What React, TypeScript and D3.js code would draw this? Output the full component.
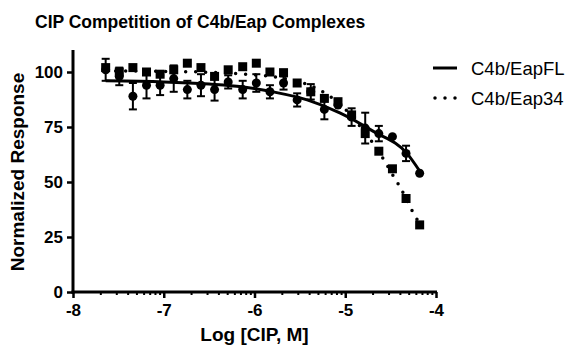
import React, { useEffect, useRef } from 'react';
import * as d3 from 'd3';

// log [CIP, M] of each well
const logConc = [-7.64, -7.49, -7.34, -7.19, -7.04, -6.89, -6.74, -6.59, -6.44, -6.29, -6.13, -5.98,
  -5.83, -5.68, -5.53, -5.38, -5.23, -5.08, -4.93, -4.78, -4.63, -4.48, -4.33, -4.18];

// C4b/EapFL mean + error
const flMean = [101, 98, 89, 94, 94, 97, 92, 94, 92, 95.5, 92, 95,
  91, 95, 87.3, 91, 83, 85, 79.5, 74.5, 72, 70.6, 63, 54];
const flErr = [5, 4, 6, 6, 4.5, 6, 4, 5, 5, 3, 4, 4,
  3, 3, 3, 3.5, 4.5, 0, 4, 7, 3.5, 0, 3.5, 0];

// C4b/Eap34 mean
const eap34Mean = [102, 100, 102, 100, 99, 101, 104, 102, 98, 101, 102.4, 104,
  100, 99.7, 95, 91, 88, 86.5, 80.5, 72, 64, 56, 42.5, 30.5];

// fitted curves
const flFitX = [-7.64, -7.0, -6.5, -6.14, -5.8, -5.42, -5.06, -4.69, -4.32, -4.18];
const flFitY = [96, 95.5, 94.5, 93.3, 91, 87.3, 81.4, 73, 63, 55];
const eapFitX = [-7.64, -7.04, -6.44, -6.09, -5.72, -5.29, -5.01, -4.85, -4.58, -4.46, -4.4, -4.29, -4.18];
const eapFitY = [100.5, 100.3, 99.8, 99, 97.4, 92, 83.5, 76, 60.5, 52, 48, 39, 31];

const yTicks = [0, 25, 50, 75, 100];
const xTicks = [-8, -7, -6, -5, -4];

const FONT = '"Liberation Sans", Arial, sans-serif';

const App = () => {
  const svgRef = useRef<SVGSVGElement>(null);

  useEffect(() => {
    const svg = d3.select(svgRef.current);
    svg.selectAll('*').remove();

    const width = 573;
    const height = 348;
    const x = d3.scaleLinear().domain([-8, -4]).range([73, 436]);
    const y = d3.scaleLinear().domain([0, 110]).range([292, 50]);

    svg.append('rect').attr('width', width).attr('height', height).attr('fill', '#fff');

    // Title
    svg.append('text')
      .attr('x', 35)
      .attr('y', 28)
      .style('font-family', FONT)
      .style('font-weight', 'bold')
      .style('font-size', '17.5px')
      .text('CIP Competition of C4b/Eap Complexes');

    // Y axis
    const yAxis = svg.append('g')
      .attr('transform', `translate(${x(-8)},0)`)
      .call(d3.axisLeft(y).tickValues(yTicks).tickSize(6).tickPadding(4));
    yAxis.select('.domain').attr('stroke-width', 3).attr('d', `M0,${y(0) + 1.5}V${y(110)}`);
    yAxis.selectAll('.tick line').attr('stroke-width', 2.5);
    yAxis.selectAll('.tick text')
      .style('font-family', FONT)
      .style('font-weight', 'bold')
      .style('font-size', '17px')
      .attr('fill', '#000');

    // X axis with log minor ticks
    const minor: number[] = [];
    for (let dec = -8; dec < -4; dec++) {
      for (let k = 2; k <= 9; k++) minor.push(dec + Math.log10(k));
    }
    const xMinor = svg.append('g')
      .attr('transform', `translate(0,${y(0)})`)
      .call(d3.axisBottom(x).tickValues(minor).tickSize(3).tickFormat(() => ''));
    xMinor.select('.domain').remove();
    xMinor.selectAll('.tick line').attr('stroke-width', 2);

    const xAxis = svg.append('g')
      .attr('transform', `translate(0,${y(0)})`)
      .call(d3.axisBottom(x).tickValues(xTicks).tickSize(6).tickPadding(6).tickFormat(d3.format('d')));
    xAxis.select('.domain').attr('stroke-width', 3).attr('d', `M${x(-8) - 1.5},0H${x(-4) + 1}`);
    xAxis.selectAll('.tick line').attr('stroke-width', 2.5);
    xAxis.selectAll('.tick text')
      .style('font-family', FONT)
      .style('font-weight', 'bold')
      .style('font-size', '17px')
      .attr('fill', '#000')
      .text((d: any) => `-${Math.abs(d)}`);

    // Axis labels
    svg.append('text')
      .attr('x', (x(-8) + x(-4)) / 2)
      .attr('y', 341)
      .attr('text-anchor', 'middle')
      .style('font-family', FONT)
      .style('font-weight', 'bold')
      .style('font-size', '19px')
      .text('Log [CIP, M]');

    svg.append('text')
      .attr('transform', 'rotate(-90)')
      .attr('x', -172)
      .attr('y', 24)
      .attr('text-anchor', 'middle')
      .style('font-family', FONT)
      .style('font-weight', 'bold')
      .style('font-size', '19px')
      .text('Normalized Response');

    const plot = svg.append('g');

    // Fitted curves
    const line = d3.line<[number, number]>()
      .x(d => x(d[0]))
      .y(d => y(d[1]))
      .curve(d3.curveMonotoneX);

    plot.append('path')
      .datum(flFitX.map((v, i) => [v, flFitY[i]] as [number, number]))
      .attr('d', line)
      .attr('fill', 'none')
      .attr('stroke', '#000')
      .attr('stroke-width', 3);

    plot.append('path')
      .datum(eapFitX.map((v, i) => [v, eapFitY[i]] as [number, number]))
      .attr('d', line)
      .attr('fill', 'none')
      .attr('stroke', '#000')
      .attr('stroke-width', 3.5)
      .attr('stroke-linecap', 'round')
      .attr('stroke-dasharray', '0 10');

    // Error bars
    logConc.forEach((c, i) => {
      const e = flErr[i];
      if (!e) return;
      const cx = x(c);
      const top = y(flMean[i] + e);
      const bot = y(flMean[i] - e);
      plot.append('line').attr('x1', cx).attr('x2', cx).attr('y1', top).attr('y2', bot)
        .attr('stroke', '#000').attr('stroke-width', 2);
      [top, bot].forEach(yy => {
        plot.append('line').attr('x1', cx - 4).attr('x2', cx + 4).attr('y1', yy).attr('y2', yy)
          .attr('stroke', '#000').attr('stroke-width', 2);
      });
    });

    // C4b/Eap34 squares
    plot.selectAll('rect.sq')
      .data(logConc)
      .enter()
      .append('rect')
      .attr('class', 'sq')
      .attr('x', (d) => x(d) - 4.5)
      .attr('y', (_, i) => y(eap34Mean[i]) - 4.5)
      .attr('width', 9)
      .attr('height', 9)
      .attr('fill', '#000');

    // C4b/EapFL circles
    plot.selectAll('circle')
      .data(logConc)
      .enter()
      .append('circle')
      .attr('cx', d => x(d))
      .attr('cy', (_, i) => y(flMean[i]))
      .attr('r', 4.5)
      .attr('fill', '#000');

    // Legend
    const legend = svg.append('g');
    legend.append('line')
      .attr('x1', 433).attr('x2', 457).attr('y1', 68).attr('y2', 68)
      .attr('stroke', '#000').attr('stroke-width', 3);
    legend.append('line')
      .attr('x1', 435).attr('x2', 456).attr('y1', 98).attr('y2', 98)
      .attr('stroke', '#000').attr('stroke-width', 3.5)
      .attr('stroke-linecap', 'round').attr('stroke-dasharray', '0 10');
    [['C4b/EapFL', 68], ['C4b/Eap34', 98]].forEach(([label, yy]) => {
      legend.append('text')
        .attr('x', 471)
        .attr('y', (yy as number) + 6.5)
        .style('font-family', FONT)
        .style('font-size', '18.5px')
        .text(label as string);
    });
  }, []);

  return (
    <svg
      ref={svgRef}
      width={573}
      height={348}
      style={{ position: 'absolute', left: 0, top: 0 }}
    />
  );
};

export default App;
